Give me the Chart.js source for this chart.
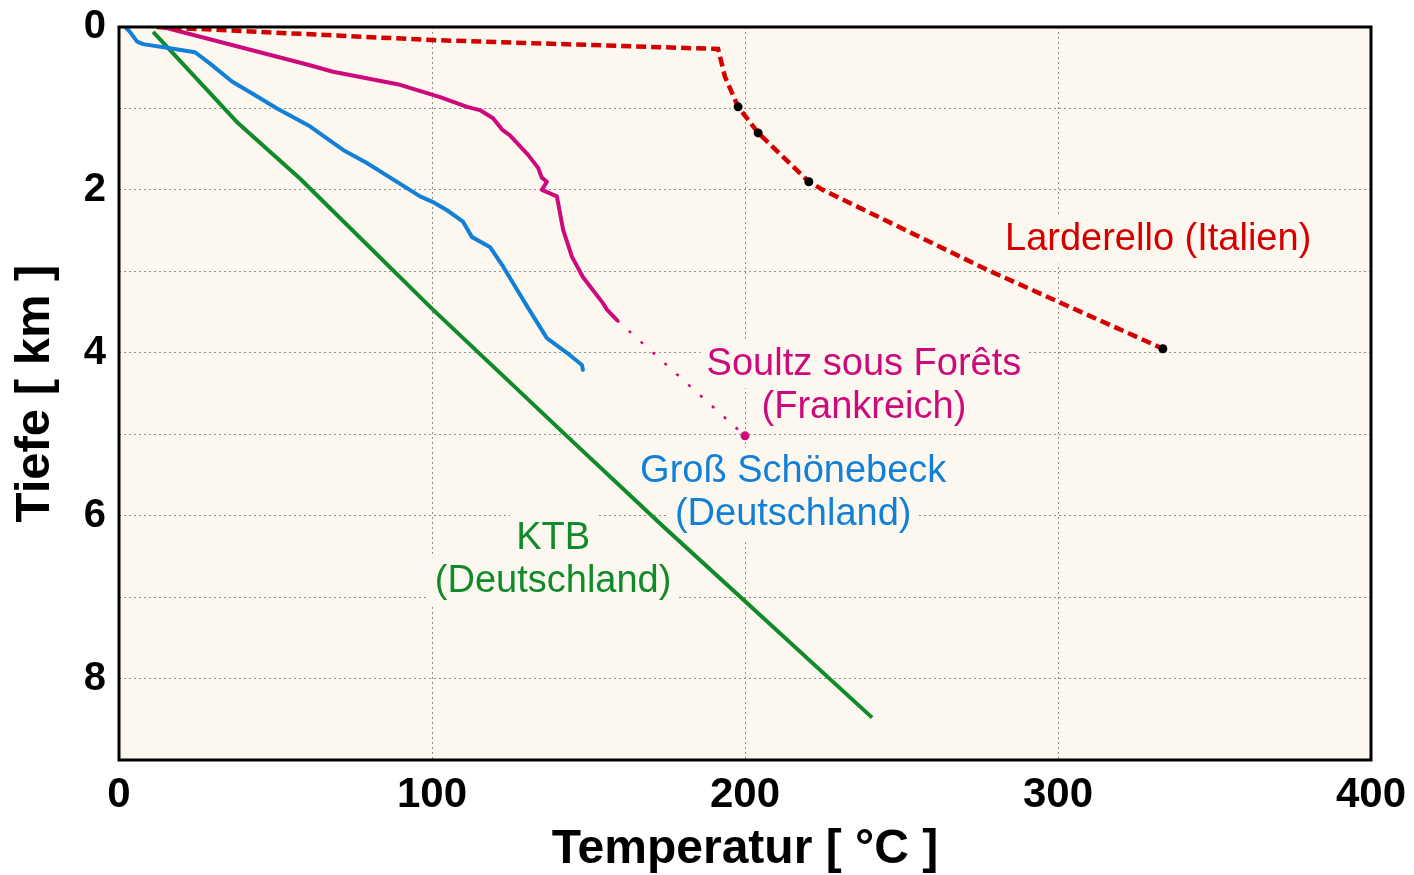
<!DOCTYPE html>
<html>
<head>
<meta charset="utf-8">
<script src="https://cdn.jsdelivr.net/npm/chart.js@4"></script>
<style>
    html, body { margin: 0; padding: 0; background: #ffffff; }
    #wrap { width: 1414px; height: 875px; }
</style>
</head>
<body>
<div id="wrap"><canvas id="chart" width="1414" height="875"></canvas></div>
<script>
// Temperatur [°C] vs Tiefe [km]

// KTB (Deutschland)
const ktbTemp  = [10.9, 38.0, 57.8, 100.3, 124.0, 141.9, 173.8, 199.4, 240.6];
const ktbDepth = [0.06, 1.18, 1.86, 3.47, 4.33, 4.98, 6.13, 7.03, 8.48];

// Groß Schönebeck (Deutschland)
const gsTemp  = [2.0, 3.5, 5.8, 7.7, 16.3, 24.3, 29.1, 36.1, 41.9, 50.5, 61.0, 71.6, 79.2, 96.2, 100.3, 104.8, 109.9, 112.8, 118.5, 122.7, 130.4, 136.7, 143.1, 147.9, 148.2];
const gsDepth = [0.0, 0.06, 0.18, 0.21, 0.26, 0.31, 0.45, 0.67, 0.80, 1.00, 1.22, 1.51, 1.67, 2.08, 2.15, 2.25, 2.39, 2.58, 2.70, 2.94, 3.43, 3.82, 4.00, 4.15, 4.21];

// Soultz sous Forêts (Frankreich), measured part
const soultzTemp  = [14.0, 61.0, 68.4, 89.8, 102.6, 111.2, 115.3, 119.5, 122.4, 124.9, 130.7, 133.9, 135.1, 136.7, 135.1, 139.9, 141.9, 144.7, 148.2, 154.6, 155.9, 159.1];
const soultzDepth = [0.0, 0.47, 0.55, 0.71, 0.86, 0.98, 1.02, 1.12, 1.26, 1.33, 1.57, 1.73, 1.85, 1.90, 2.00, 2.08, 2.49, 2.82, 3.07, 3.39, 3.47, 3.60];
// Soultz, extrapolated to the well bottom
const soultzExtTemp  = [159.1, 200.0];
const soultzExtDepth = [3.60, 5.02];

// Larderello (Italien)
const larTemp  = [12.0, 100.0, 191.4, 193.6, 197.8, 204.2, 220.4, 224.9, 277.3, 333.5];
const larDepth = [0.0, 0.16, 0.27, 0.61, 0.98, 1.30, 1.90, 2.00, 2.98, 3.95];
const larDotTemp  = [197.8, 204.2, 220.4, 333.5];
const larDotDepth = [0.98, 1.30, 1.90, 3.95];

// axis ticks
const tempTicks  = [0, 100, 200, 300, 400];
const depthTicks = [0, 2, 4, 6, 8];

const PLOT_BG = '#fdf8ef';
const RED = '#d40000';
const MAGENTA = '#cc0a7c';
const BLUE = '#1380d8';
const GREEN = '#108a2a';

const siteLabels = [
    { lines: ['Larderello (Italien)'], temp: 332, depth: 2.61, color: RED },
    { lines: ['Soultz sous Forêts', '(Frankreich)'], temp: 238, depth: 4.14, color: MAGENTA },
    { lines: ['Groß Schönebeck', '(Deutschland)'], temp: 215.4, depth: 5.46, color: BLUE },
    { lines: ['KTB', '(Deutschland)'], temp: 138.7, depth: 6.28, color: GREEN }
];
const LABEL_FONT = '38px "Liberation Sans", Arial, sans-serif';
const LABEL_LINE = 43;

const toPoints = (xs, ys) => xs.map((t, i) => ({ x: t, y: ys[i] }));

const plotFrame = {
    id: 'plotFrame',
    beforeDraw(chart) {
        const { ctx, chartArea: a } = chart;
        ctx.save();
        ctx.fillStyle = PLOT_BG;
        ctx.fillRect(a.left, a.top, a.right - a.left, a.bottom - a.top);
        ctx.restore();
    },
    afterDraw(chart) {
        const { ctx, chartArea: a } = chart;
        ctx.save();
        ctx.strokeStyle = '#000';
        ctx.lineWidth = 3;
        ctx.strokeRect(a.left, a.top, a.right - a.left, a.bottom - a.top);
        ctx.restore();
    }
};

const labelPlugin = {
    id: 'siteLabels',
    beforeDatasetsDraw(chart) {
        // labels sit on a patch of plot background that hides the grid
        const { ctx, scales: { x, y } } = chart;
        ctx.save();
        ctx.font = LABEL_FONT;
        ctx.fillStyle = PLOT_BG;
        siteLabels.forEach(lab => {
            const cx = x.getPixelForValue(lab.temp);
            const cy = y.getPixelForValue(lab.depth);
            lab.lines.forEach((line, i) => {
                const w = ctx.measureText(line).width;
                ctx.fillRect(cx - w / 2 - 6, cy + i * LABEL_LINE - 24, w + 12, 48);
            });
        });
        ctx.restore();
    },
    afterDatasetsDraw(chart) {
        const { ctx, scales: { x, y } } = chart;
        ctx.save();
        ctx.font = LABEL_FONT;
        ctx.textAlign = 'center';
        ctx.textBaseline = 'middle';
        siteLabels.forEach(lab => {
            const cx = x.getPixelForValue(lab.temp);
            const cy = y.getPixelForValue(lab.depth);
            ctx.fillStyle = lab.color;
            lab.lines.forEach((line, i) => ctx.fillText(line, cx, cy + i * LABEL_LINE));
        });
        ctx.restore();
    }
};

Chart.defaults.font.family = '"Liberation Sans", Arial, sans-serif';
Chart.defaults.color = '#000';

new Chart(document.getElementById('chart'), {
    type: 'line',
    data: {
        datasets: [
            {
                label: 'Larderello Messpunkte',
                data: toPoints(larDotTemp, larDotDepth),
                showLine: false,
                pointRadius: 4.5,
                pointBackgroundColor: '#000',
                pointBorderWidth: 0,
                order: 0
            },
            {
                label: 'Soultz Endpunkt',
                data: toPoints([soultzExtTemp[1]], [soultzExtDepth[1]]),
                showLine: false,
                pointRadius: 4.5,
                pointBackgroundColor: MAGENTA,
                pointBorderWidth: 0,
                order: 0
            },
            {
                label: 'Larderello (Italien)',
                data: toPoints(larTemp, larDepth),
                borderColor: RED,
                borderWidth: 4.5,
                borderDash: [10, 5],
                pointRadius: 0,
                tension: 0,
                order: 1
            },
            {
                label: 'Soultz sous Forêts (Frankreich)',
                data: toPoints(soultzTemp, soultzDepth),
                borderColor: MAGENTA,
                borderWidth: 4,
                borderJoinStyle: 'round',
                borderCapStyle: 'round',
                pointRadius: 0,
                tension: 0,
                order: 2
            },
            {
                label: 'Soultz Extrapolation',
                data: toPoints(soultzExtTemp, soultzExtDepth),
                borderColor: MAGENTA,
                borderWidth: 2.5,
                borderDash: [3, 13],
                pointRadius: 0,
                tension: 0,
                order: 2
            },
            {
                label: 'Groß Schönebeck (Deutschland)',
                data: toPoints(gsTemp, gsDepth),
                borderColor: BLUE,
                borderWidth: 4,
                borderJoinStyle: 'round',
                borderCapStyle: 'round',
                pointRadius: 0,
                tension: 0,
                order: 3
            },
            {
                label: 'KTB (Deutschland)',
                data: toPoints(ktbTemp, ktbDepth),
                borderColor: GREEN,
                borderWidth: 4,
                borderJoinStyle: 'round',
                pointRadius: 0,
                tension: 0,
                order: 4
            }
        ]
    },
    options: {
        responsive: false,
        devicePixelRatio: 1,
        animation: false,
        layout: { padding: { top: 27, right: 43, left: 0, bottom: 0 } },
        plugins: {
            legend: { display: false },
            tooltip: { enabled: false }
        },
        scales: {
            x: {
                type: 'linear',
                min: 0,
                max: 400,
                afterFit: (scale) => {
                    scale.height = 115;
                    scale.paddingLeft = 0;
                    scale.paddingRight = 0;
                },
                afterBuildTicks: (scale) => { scale.ticks = tempTicks.map(v => ({ value: v })); },
                ticks: {
                    autoSkip: false,
                    maxRotation: 0,
                    padding: 14,
                    color: '#000',
                    font: { size: 42, weight: 'bold', lineHeight: 1 }
                },
                grid: { color: 'rgba(110,110,110,0.75)', lineWidth: 1, drawTicks: false },
                border: { display: false, dash: [2, 3] },
                title: {
                    display: true,
                    text: 'Temperatur [ °C ]',
                    color: '#000',
                    padding: { top: 0, bottom: 1 },
                    font: { size: 48, weight: 'bold', lineHeight: 1 }
                }
            },
            y: {
                type: 'linear',
                reverse: true,
                min: 0,
                max: 9,
                afterFit: (scale) => {
                    scale.width = 119;
                    scale.paddingTop = 0;
                    scale.paddingBottom = 0;
                },
                ticks: {
                    stepSize: 1,
                    autoSkip: false,
                    padding: 13,
                    color: '#000',
                    callback: (v) => depthTicks.includes(v) ? String(v) : '',
                    font: { size: 40, weight: 'bold', lineHeight: 1 }
                },
                grid: { color: 'rgba(110,110,110,0.75)', lineWidth: 1, drawTicks: false },
                border: { display: false, dash: [2, 3] },
                title: {
                    display: true,
                    text: 'Tiefe [ km ]',
                    color: '#000',
                    padding: { top: 11, bottom: 0 },
                    font: { size: 49, weight: 'bold', lineHeight: 1 }
                }
            }
        }
    },
    plugins: [plotFrame, labelPlugin]
});
</script>
</body>
</html>
